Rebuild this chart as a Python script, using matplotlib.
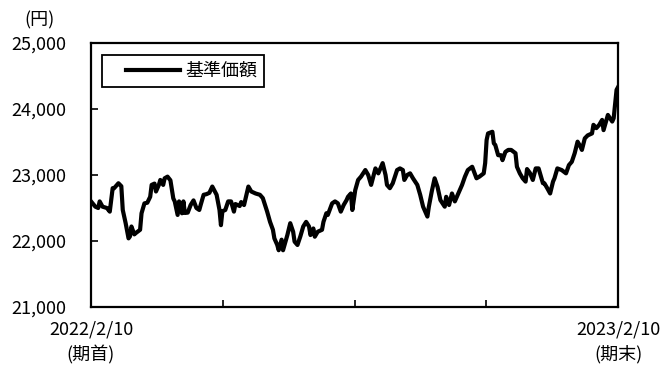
import matplotlib
matplotlib.use("Agg")
import matplotlib.pyplot as plt
from matplotlib.lines import Line2D
from matplotlib.legend_handler import HandlerLine2D

plt.rcParams['font.family'] = ['Noto Sans CJK JP', 'DejaVu Sans']

# days since 2022/2/10 and NAV (円)
days = [0, 3, 5, 6, 8, 11, 13, 15, 16, 19, 21, 22, 24, 26, 27, 28, 30, 31, 34, 35,
        37, 39, 41, 42, 44, 45, 47, 48, 50, 51, 53, 55, 57, 58, 60, 61, 63, 64, 65, 67,
        69, 71, 73, 75, 76, 78, 80, 82, 84, 87, 89, 90, 91, 93, 95, 97, 99, 100, 103, 104,
        106, 109, 111, 114, 117, 119, 122, 124, 126, 127, 129, 130, 132, 133, 136, 138, 140, 141, 143, 145,
        147, 149, 151, 152, 154, 155, 157, 160, 161, 163, 164, 167, 169, 171, 173, 175, 177, 178, 180, 181,
        183, 185, 187, 190, 192, 194, 197, 199, 202, 204, 205, 207, 209, 212, 214, 216, 217, 219, 221, 223,
        226, 228, 230, 233, 234, 236, 238, 240, 242, 245, 246, 248, 250, 252, 254, 257, 259, 261, 264, 267,
        269, 272, 273, 274, 275, 278, 279, 280, 282, 284, 285, 287, 289, 291, 294, 295, 297, 299, 301, 302,
        304, 306, 308, 310, 311, 313, 314, 316, 318, 320, 321, 323, 326, 329, 331, 333, 335, 337, 339, 340,
        342, 344, 347, 348, 350, 352, 354, 355, 357, 358, 361, 362, 364, 365]
nav = [22600, 22520, 22500, 22600, 22520, 22500, 22445, 22800, 22800, 22875, 22830, 22470, 22270, 22040, 22070, 22220, 22100, 22120, 22170, 22420,
       22570, 22580, 22670, 22850, 22870, 22750, 22850, 22925, 22850, 22950, 22975, 22920, 22645, 22600, 22395, 22600, 22420, 22600, 22425, 22430,
       22545, 22615, 22500, 22470, 22550, 22700, 22710, 22730, 22825, 22700, 22470, 22240, 22450, 22470, 22600, 22600, 22445, 22560, 22530, 22590,
       22545, 22825, 22750, 22720, 22700, 22650, 22445, 22290, 22170, 22040, 21940, 21860, 22020, 21860, 22090, 22270, 22140, 21990, 21940, 22070,
       22220, 22290, 22220, 22090, 22190, 22065, 22140, 22170, 22290, 22420, 22395, 22570, 22600, 22570, 22445, 22545, 22620, 22670, 22720, 22470,
       22770, 22925, 22975, 23075, 23000, 22850, 23100, 23025, 23180, 23000, 22850, 22800, 22875, 23075, 23100, 23075, 22925, 23000, 23025, 22950,
       22850, 22700, 22520, 22370, 22520, 22750, 22950, 22820, 22620, 22520, 22670, 22545, 22720, 22600, 22700, 22850, 22975, 23075, 23125, 22950,
       22975, 23025, 23180, 23530, 23630, 23655, 23480, 23455, 23300, 23300, 23225, 23350, 23380, 23380, 23330, 23125, 23025, 22950, 22900, 23090,
       23030, 22925, 23100, 23100, 23025, 22875, 22875, 22800, 22720, 22900, 22950, 23100, 23075, 23025, 23150, 23200, 23330, 23505, 23430, 23380,
       23555, 23600, 23630, 23760, 23710, 23760, 23835, 23680, 23835, 23910, 23810, 23860, 24290, 24330]

yticks = [21000, 22000, 23000, 24000, 25000]
ytick_labels = ["21,000", "22,000", "23,000", "24,000", "25,000"]
xticks = [0, 91.25, 182.5, 273.75, 365]
xtick_labels = ["2022/2/10\n(期首)", "", "", "", "2023/2/10\n(期末)"]
series_name = "基準価額"

fig = plt.figure(figsize=(6.62, 3.67), dpi=100)
ax = fig.add_axes([91/662, 1-307/367, (618-91)/662, (307-43)/367])

ax.plot(days, nav, color='black', linewidth=3.0, solid_joinstyle='round', label=series_name)

ax.set_xlim(0, 365)
ax.set_ylim(21000, 25000)
ax.set_yticks(yticks)
ax.set_yticklabels(ytick_labels, fontsize=13)
ax.set_xticks(xticks)
ax.set_xticklabels(xtick_labels, fontsize=13, linespacing=1.4)
ax.tick_params(axis='y', direction='in', length=5, width=1.2, pad=18)
ax.tick_params(axis='x', direction='in', length=5, width=1.2, pad=10)
for s in ax.spines.values():
    s.set_linewidth(1.6)
    s.set_color('black')

leg = ax.legend(loc='upper left', bbox_to_anchor=(0.021, 0.955), borderaxespad=0,
                fontsize=13, handlelength=3.9, handletextpad=0.3, fancybox=False,
                framealpha=1, edgecolor='black', borderpad=0.4,
                handler_map={Line2D: HandlerLine2D(xpad=0.95)})
leg.get_frame().set_linewidth(1.3)

fig.text(39/662, 1-20/367, "(円)", ha='center', va='center', fontsize=13)

fig.savefig("out.png", dpi=100)
